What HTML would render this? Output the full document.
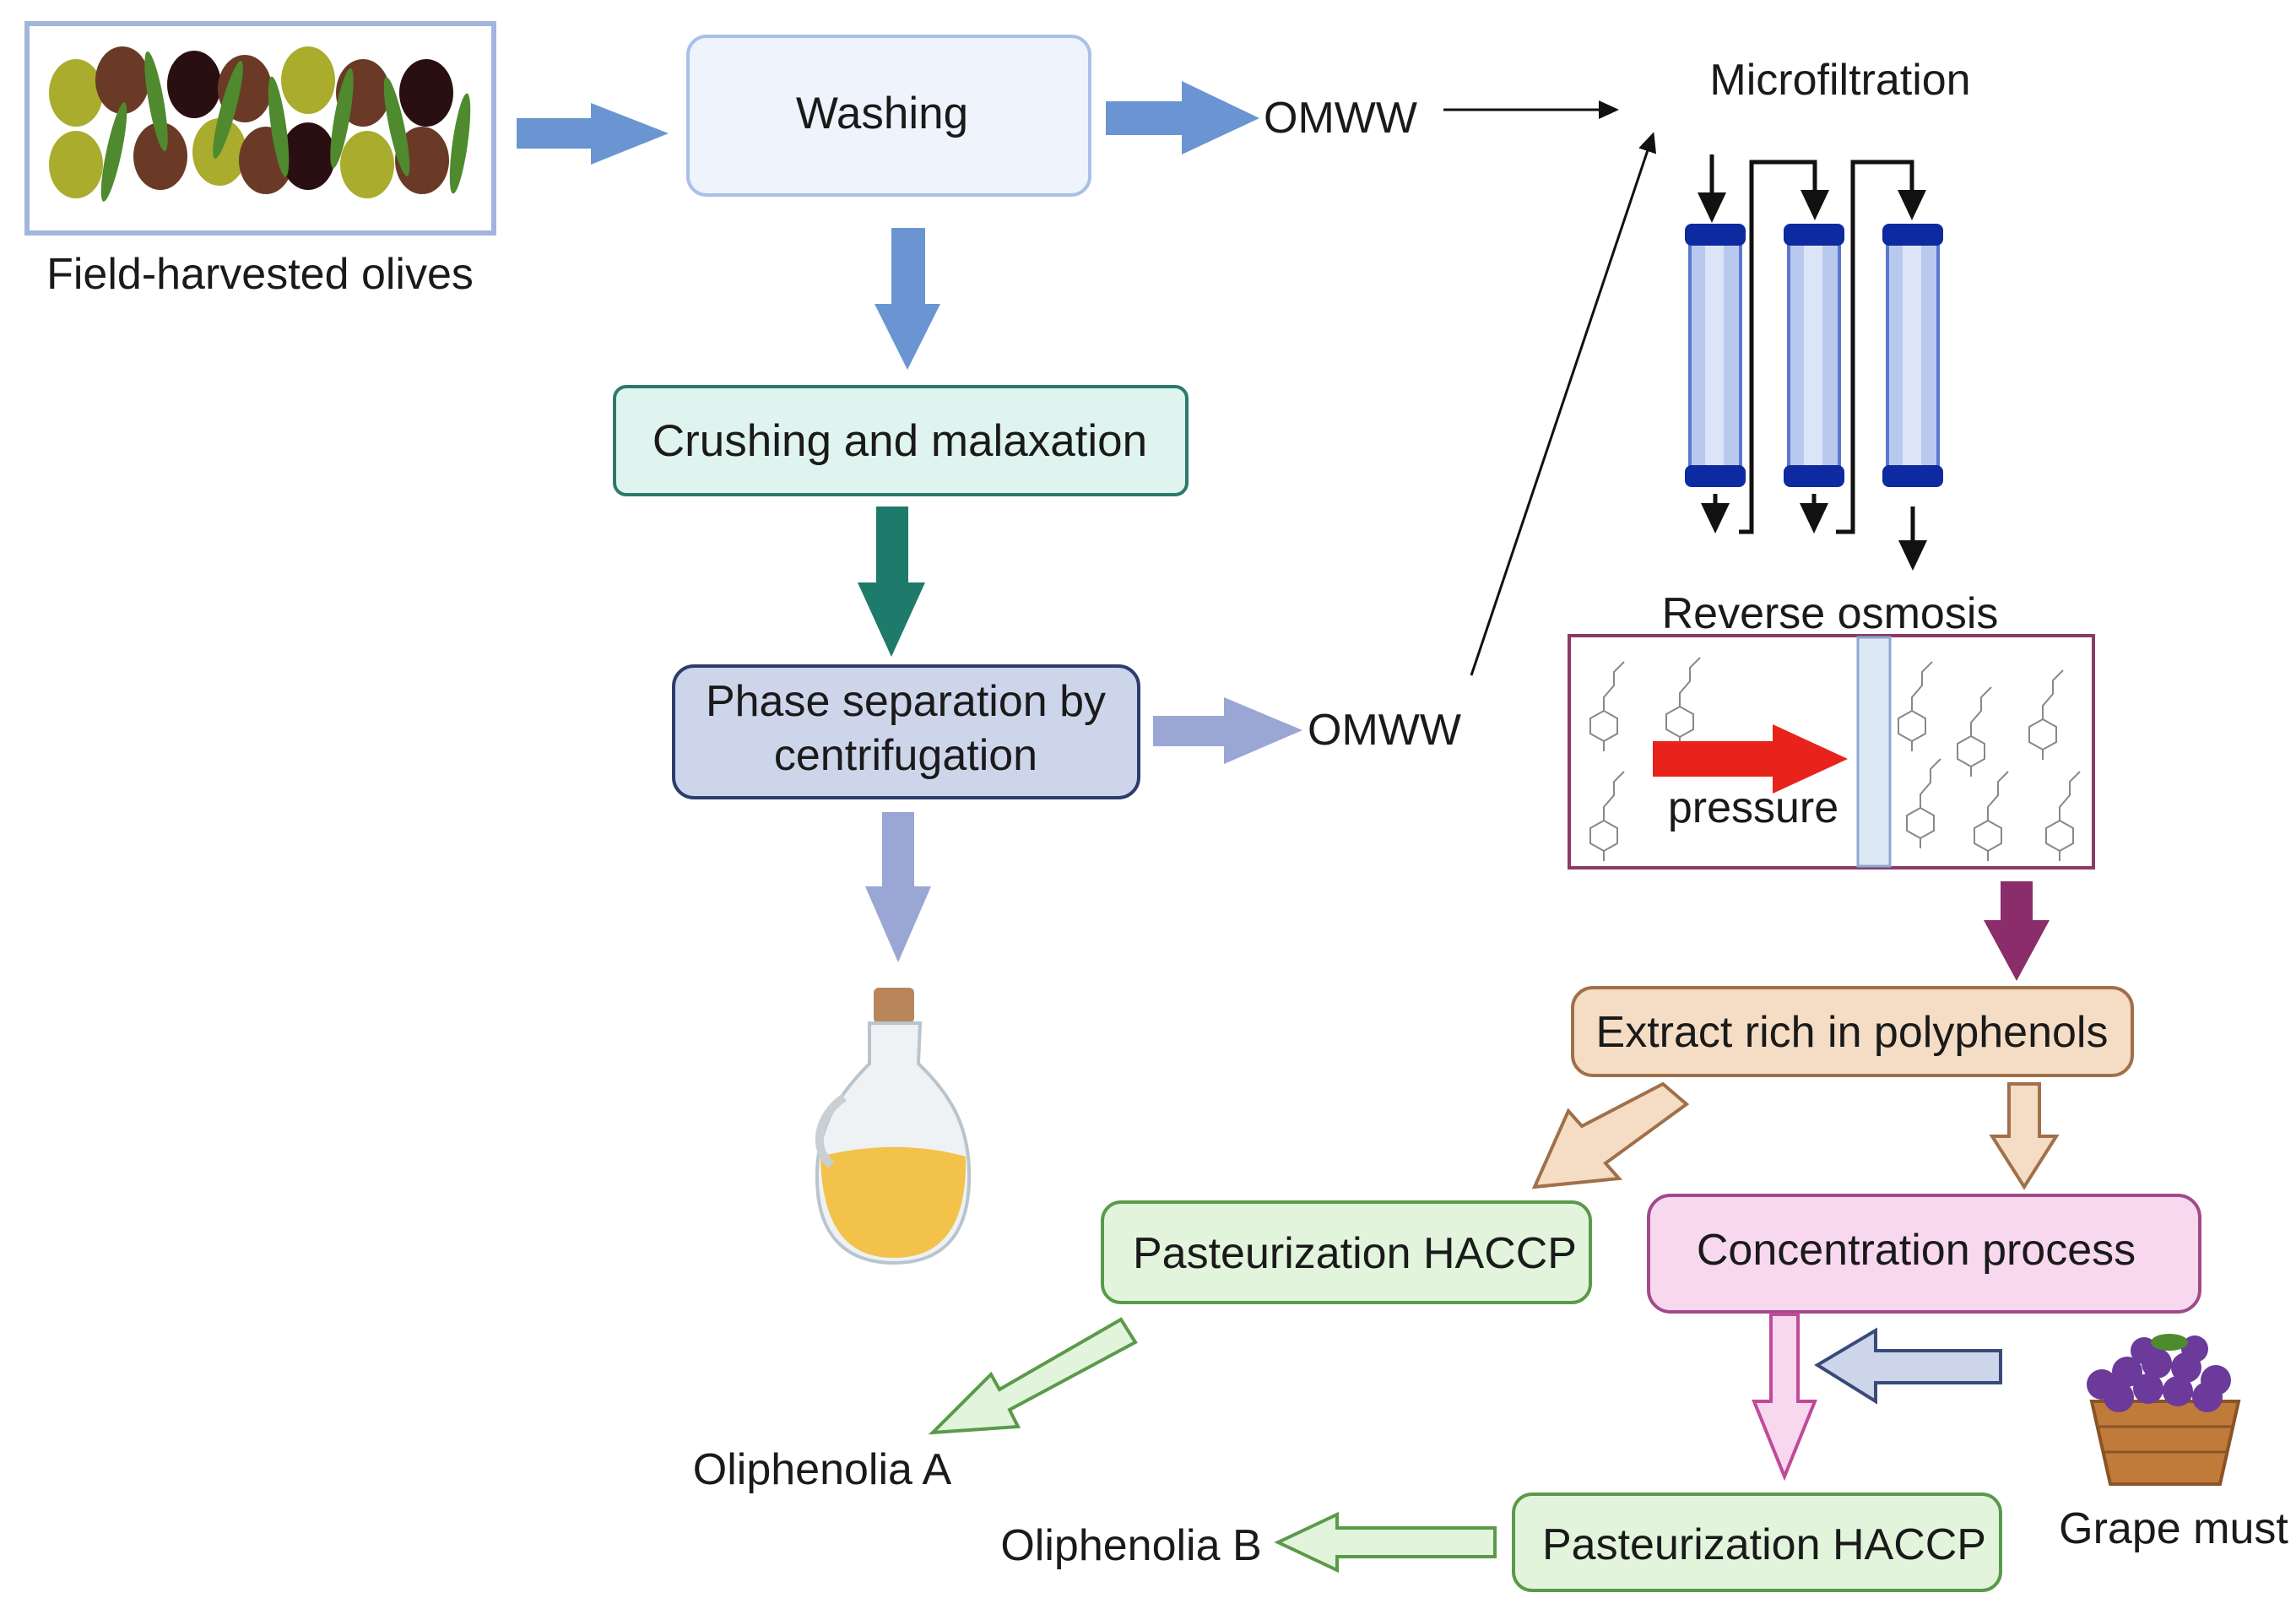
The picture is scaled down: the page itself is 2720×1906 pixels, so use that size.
<!DOCTYPE html>
<html><head><meta charset="utf-8"><style>
html,body{margin:0;padding:0;background:#fff}
svg{display:block}
text{font-family:"Liberation Sans",sans-serif;fill:#1a1a1a}
</style></head><body>
<svg width="2720" height="1906" viewBox="0 0 2720 1906" xmlns="http://www.w3.org/2000/svg">
<defs>
<marker id="ah" markerWidth="24" markerHeight="22" refX="20" refY="11" orient="auto" markerUnits="userSpaceOnUse"><path d="M0,0 L24,11 L0,22 z" fill="#111"/></marker>
<marker id="ah2" markerWidth="36" markerHeight="34" refX="30" refY="17" orient="auto" markerUnits="userSpaceOnUse"><path d="M0,0 L36,17 L0,34 z" fill="#111"/></marker>
<g id="mol" fill="none" stroke="#888" stroke-width="2">
<polygon points="0,-18 16,-9 16,9 0,18 -16,9 -16,-9"/>
<path d="M0,-18 L0,-34 L12,-48 L12,-64 L24,-76 M0,18 L0,30"/>
</g>
<g id="filter">
<rect x="-30" y="10" width="60" height="290" fill="#b9c9ee" stroke="#5b78d0" stroke-width="4"/>
<rect x="-12" y="10" width="22" height="290" fill="#dbe5f7"/>
<rect x="-36" y="0" width="72" height="26" rx="8" fill="#0d2aa0"/>
<rect x="-36" y="286" width="72" height="26" rx="8" fill="#0d2aa0"/>
</g>
</defs>

<rect x="32" y="28" width="553" height="248" fill="#fff" stroke="#a3b5dc" stroke-width="6"/>
<g>
<ellipse cx="90" cy="110" rx="32" ry="40" fill="#a9ac2c"/>
<ellipse cx="145" cy="95" rx="32" ry="40" fill="#6a3a26"/>
<ellipse cx="230" cy="100" rx="32" ry="40" fill="#2a0f12"/>
<ellipse cx="290" cy="105" rx="32" ry="40" fill="#6a3a26"/>
<ellipse cx="365" cy="95" rx="32" ry="40" fill="#a9ac2c"/>
<ellipse cx="430" cy="110" rx="32" ry="40" fill="#6a3a26"/>
<ellipse cx="505" cy="110" rx="32" ry="40" fill="#2a0f12"/>
<ellipse cx="90" cy="195" rx="32" ry="40" fill="#a9ac2c"/>
<ellipse cx="190" cy="185" rx="32" ry="40" fill="#6a3a26"/>
<ellipse cx="260" cy="180" rx="32" ry="40" fill="#a9ac2c"/>
<ellipse cx="315" cy="190" rx="32" ry="40" fill="#6a3a26"/>
<ellipse cx="365" cy="185" rx="32" ry="40" fill="#2a0f12"/>
<ellipse cx="435" cy="195" rx="32" ry="40" fill="#a9ac2c"/>
<ellipse cx="500" cy="190" rx="32" ry="40" fill="#6a3a26"/>
<g fill="#4f8a2e">
<ellipse cx="135" cy="180" rx="9" ry="60" transform="rotate(12 135 180)"/>
<ellipse cx="185" cy="120" rx="9" ry="60" transform="rotate(-10 185 120)"/>
<ellipse cx="270" cy="130" rx="9" ry="60" transform="rotate(15 270 130)"/>
<ellipse cx="330" cy="150" rx="9" ry="60" transform="rotate(-8 330 150)"/>
<ellipse cx="405" cy="140" rx="9" ry="60" transform="rotate(10 405 140)"/>
<ellipse cx="470" cy="150" rx="9" ry="60" transform="rotate(-12 470 150)"/>
<ellipse cx="545" cy="170" rx="9" ry="60" transform="rotate(8 545 170)"/>
</g>
</g>
<text x="308" y="342" font-size="52" text-anchor="middle">Field-harvested olives</text>

<polygon points="612,140 700,140 700,122 792,158 700,195 700,176 612,176" fill="#6a95d2"/>
<rect x="815" y="43" width="476" height="188" rx="22" fill="#eef3fc" stroke="#a9c0e8" stroke-width="4"/>
<text x="1045" y="152" font-size="53" text-anchor="middle">Washing</text>

<polygon points="1310,120 1400,120 1400,96 1492,140 1400,183 1400,160 1310,160" fill="#6a95d2"/>
<text x="1497" y="157" font-size="52">OMWW</text>
<line x1="1710" y1="130" x2="1914" y2="130" stroke="#111" stroke-width="3" marker-end="url(#ah)"/>
<text x="2180" y="112" font-size="52" text-anchor="middle">Microfiltration</text>

<polygon points="1056,270 1096,270 1096,360 1114,360 1075,438 1036,360 1056,360" fill="#6a95d2"/>
<rect x="728" y="458" width="678" height="128" rx="14" fill="#dff3ef" stroke="#2b7a6b" stroke-width="4"/>
<text x="1066" y="540" font-size="53" text-anchor="middle">Crushing and malaxation</text>

<polygon points="1038,600 1076,600 1076,690 1096,690 1056,778 1016,690 1038,690" fill="#1e7a6a"/>
<rect x="798" y="789" width="551" height="156" rx="24" fill="#cdd5ea" stroke="#2e3c6c" stroke-width="4"/>
<text x="1073" y="848" font-size="52" text-anchor="middle">Phase separation by</text>
<text x="1073" y="912" font-size="52" text-anchor="middle">centrifugation</text>

<polygon points="1366,848 1450,848 1450,826 1543,865 1450,905 1450,884 1366,884" fill="#9aa6d4"/>
<text x="1549" y="882" font-size="52">OMWW</text>
<line x1="1743" y1="800" x2="1958" y2="160" stroke="#111" stroke-width="3" marker-end="url(#ah)"/>

<polygon points="1045,962 1083,962 1083,1050 1103,1050 1064,1140 1025,1050 1045,1050" fill="#9aa6d4"/>

<g>
<rect x="1035" y="1170" width="48" height="42" rx="6" fill="#b8865a"/>
<path d="M1030,1212 L1090,1212 L1088,1260 C1130,1300 1150,1340 1148,1400 C1146,1470 1110,1496 1059,1496 C1008,1496 970,1470 968,1400 C966,1340 990,1300 1030,1260 Z" fill="#eef2f5" stroke="#b9c4cc" stroke-width="4"/>
<path d="M972,1370 C1030,1355 1090,1355 1144,1370 C1146,1460 1110,1490 1059,1490 C1008,1490 974,1460 972,1370 Z" fill="#f2c24a"/>
<path d="M1000,1300 C970,1320 960,1360 985,1380" fill="none" stroke="#c8d0d6" stroke-width="10"/>
</g>

<line x1="2028" y1="183" x2="2028" y2="258" stroke="#111" stroke-width="5" marker-end="url(#ah2)"/>
<path d="M2060,630 L2075,630 L2075,192 L2150,192 L2150,255" fill="none" stroke="#111" stroke-width="5" marker-end="url(#ah2)"/>
<path d="M2175,630 L2195,630 L2195,192 L2265,192 L2265,255" fill="none" stroke="#111" stroke-width="5" marker-end="url(#ah2)"/>
<use href="#filter" x="2032" y="265"/>
<use href="#filter" x="2149" y="265"/>
<use href="#filter" x="2266" y="265"/>
<line x1="2032" y1="585" x2="2032" y2="626" stroke="#111" stroke-width="5" marker-end="url(#ah2)"/>
<line x1="2149" y1="585" x2="2149" y2="626" stroke="#111" stroke-width="5" marker-end="url(#ah2)"/>
<line x1="2266" y1="600" x2="2266" y2="670" stroke="#111" stroke-width="5" marker-end="url(#ah2)"/>

<text x="2168" y="744" font-size="52" text-anchor="middle">Reverse osmosis</text>
<rect x="1859" y="753" width="621" height="275" fill="#fff" stroke="#8a3a6a" stroke-width="4"/>
<rect x="2201" y="755" width="38" height="271" fill="#dde8f5" stroke="#8fa8cf" stroke-width="3"/>
<use href="#mol" x="1900" y="860"/>
<use href="#mol" x="1990" y="855"/>
<use href="#mol" x="1900" y="990"/>
<use href="#mol" x="2265" y="860"/>
<use href="#mol" x="2335" y="890"/>
<use href="#mol" x="2420" y="870"/>
<use href="#mol" x="2275" y="975"/>
<use href="#mol" x="2355" y="990"/>
<use href="#mol" x="2440" y="990"/>
<polygon points="1958,878 2100,878 2100,858 2189,899 2100,940 2100,920 1958,920" fill="#e8231b"/>
<text x="2077" y="974" font-size="52" text-anchor="middle">pressure</text>

<polygon points="2370,1044 2408,1044 2408,1090 2428,1090 2389,1162 2350,1090 2370,1090" fill="#8a2d6a"/>
<rect x="1863" y="1170" width="663" height="104" rx="24" fill="#f5dcc4" stroke="#a0704a" stroke-width="4"/>
<text x="2194" y="1240" font-size="52" text-anchor="middle">Extract rich in polyphenols</text>

<polygon points="1970,1284 1998,1308 1902,1378 1918,1396 1818,1406 1858,1316 1874,1334" fill="#f5dcc4" stroke="#a0704a" stroke-width="4"/>
<polygon points="2380,1284 2416,1284 2416,1346 2436,1346 2398,1406 2360,1346 2380,1346" fill="#f5dcc4" stroke="#a0704a" stroke-width="4"/>

<rect x="1306" y="1424" width="578" height="119" rx="22" fill="#e2f5dc" stroke="#5a9a4a" stroke-width="4"/>
<text x="1605" y="1502" font-size="52" text-anchor="middle">Pasteurization HACCP</text>
<rect x="1953" y="1416" width="653" height="138" rx="26" fill="#f8d8ef" stroke="#a04a8a" stroke-width="4"/>
<text x="2270" y="1498" font-size="52" text-anchor="middle">Concentration process</text>

<polygon points="1328,1563 1345,1590 1196,1670 1206,1690 1105,1697 1174,1628 1184,1646" fill="#e2f5dc" stroke="#5a9a4a" stroke-width="4"/>
<text x="974" y="1758" font-size="52" text-anchor="middle">Oliphenolia A</text>

<polygon points="2098,1557 2130,1557 2130,1660 2150,1660 2114,1749 2078,1660 2098,1660" fill="#f8d8ef" stroke="#c04a9a" stroke-width="4"/>
<polygon points="2370,1600 2370,1638 2222,1638 2222,1660 2153,1617 2222,1576 2222,1600" fill="#cdd5ea" stroke="#3a4a7a" stroke-width="4"/>

<g>
<path d="M2478,1660 L2652,1660 L2630,1758 L2500,1758 Z" fill="#c07a3a" stroke="#8a5424" stroke-width="4"/>
<path d="M2484,1690 L2646,1690 M2490,1720 L2640,1720" stroke="#8a5424" stroke-width="3"/>
<g fill="#6b3a9a">
<circle cx="2490" cy="1640" r="18"/><circle cx="2520" cy="1625" r="18"/><circle cx="2555" cy="1615" r="18"/>
<circle cx="2590" cy="1620" r="18"/><circle cx="2625" cy="1635" r="18"/><circle cx="2510" cy="1655" r="18"/>
<circle cx="2545" cy="1645" r="18"/><circle cx="2580" cy="1648" r="18"/><circle cx="2615" cy="1655" r="18"/>
<circle cx="2540" cy="1600" r="16"/><circle cx="2600" cy="1598" r="16"/>
</g>
<ellipse cx="2570" cy="1590" rx="22" ry="10" fill="#4f8a2e"/>
</g>
<text x="2575" y="1828" font-size="52" text-anchor="middle">Grape must</text>

<rect x="1793" y="1770" width="577" height="114" rx="22" fill="#e2f5dc" stroke="#5a9a4a" stroke-width="4"/>
<text x="2090" y="1847" font-size="52" text-anchor="middle">Pasteurization HACCP</text>

<polygon points="1771,1810 1771,1844 1584,1844 1584,1860 1514,1827 1584,1794 1584,1810" fill="#e2f5dc" stroke="#5a9a4a" stroke-width="4"/>
<text x="1340" y="1848" font-size="52" text-anchor="middle">Oliphenolia B</text>
</svg>
</body></html>
